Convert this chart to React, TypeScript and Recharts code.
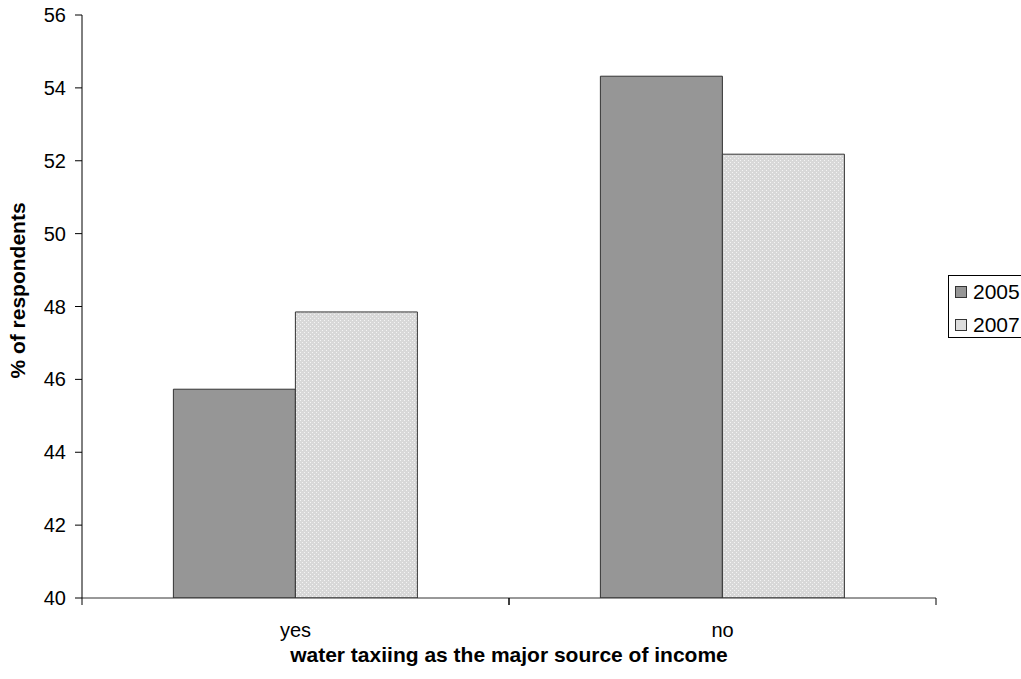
import { ComposedChart, Bar, XAxis, YAxis, Legend, Label } from 'recharts';

// values
const categories = ['yes', 'no'];
const values2005 = [45.73, 54.32];
const values2007 = [47.85, 52.18];
const yTicks = [40, 42, 44, 46, 48, 50, 52, 54, 56];

const data = categories.map((name, i) => ({
  name,
  y2005: values2005[i],
  y2007: values2007[i],
}));

const FONT = '"Liberation Sans", Arial, sans-serif';

// category ticks sit between the groups, like in the original spreadsheet chart
const XTick = (props: any) => {
  const { x, y, payload } = props;
  const half = payload.offset ?? 213.5;
  return (
    <g>
      <line x1={x - half} y1={y - 8} x2={x - half} y2={y - 1} stroke="#000" />
      <line x1={x + half} y1={y - 8} x2={x + half} y2={y - 1} stroke="#000" />
      <text x={x} y={y + 31} textAnchor="middle" fontFamily={FONT} fontSize={20} fill="#000">
        {payload.value}
      </text>
    </g>
  );
};

const LegendBox = () => (
  <div
    style={{
      border: '1px solid #000',
      background: '#fff',
      padding: '4px 0 0 6px',
      width: 90,
      fontFamily: FONT,
      fontSize: 21,
    }}
  >
    {[
      { label: '2005', fill: '#969696' },
      { label: '2007', fill: '#dddddd' },
    ].map((it, i) => (
      <div key={it.label} style={{ display: 'flex', alignItems: 'center', height: 24, marginTop: i ? 9 : 0 }}>
        <span
          style={{
            display: 'inline-block',
            width: 10,
            height: 10,
            background: it.fill,
            border: '1px solid #333',
            marginRight: 6,
          }}
        />
        {it.label}
      </div>
    ))}
  </div>
);

export default function App() {
  return (
    <div style={{ position: 'absolute', left: 0, top: 0, background: '#fff' }}>
      <ComposedChart
        width={1021}
        height={679}
        data={data}
        margin={{ top: 15, right: 85, bottom: 0, left: 0 }}
        barCategoryGap="21.4%"
        barGap={0}
      >
        <defs>
          <pattern id="dots" width="4" height="4" patternUnits="userSpaceOnUse">
            <rect width="4" height="4" fill="#d8d8d8" />
            <rect x="0" y="0" width="1" height="1" fill="#f4f4f4" />
            <rect x="2" y="2" width="1" height="1" fill="#f4f4f4" />
          </pattern>
        </defs>
        <XAxis
          dataKey="name"
          tick={<XTick />}
          tickLine={false}
          axisLine={{ stroke: '#333' }}
          interval={0}
          height={81}
        >
          <Label
            value="water taxiing as the major source of income"
            position="insideBottom"
            offset={17}
            style={{ fontFamily: FONT, fontSize: 21, fontWeight: 'bold', fill: '#000' }}
          />
        </XAxis>
        <YAxis
          domain={[40, 56]}
          ticks={yTicks}
          interval={0}
          width={82}
          tickSize={7}
          tickMargin={9}
          axisLine={{ stroke: '#000' }}
          tickLine={{ stroke: '#000' }}
          tick={{ fontFamily: FONT, fontSize: 20, fill: '#000' }}
          allowDataOverflow
        >
          <Label
            value="% of respondents"
            angle={-90}
            position="insideLeft"
            offset={18}
            dy={-16}
            style={{ fontFamily: FONT, fontSize: 21, fontWeight: 'bold', fill: '#000', textAnchor: 'middle' }}
          />
        </YAxis>
        <Legend
          layout="horizontal"
          verticalAlign="middle"
          align="center"
          content={<LegendBox />}
          wrapperStyle={{ position: 'absolute', left: 948, top: 275, width: 100 }}
        />
        <Bar dataKey="y2005" name="2005" fill="#969696" stroke="#333" strokeWidth={1} isAnimationActive={false} />
        <Bar dataKey="y2007" name="2007" fill="url(#dots)" stroke="#333" strokeWidth={1} isAnimationActive={false} />
      </ComposedChart>
    </div>
  );
}
